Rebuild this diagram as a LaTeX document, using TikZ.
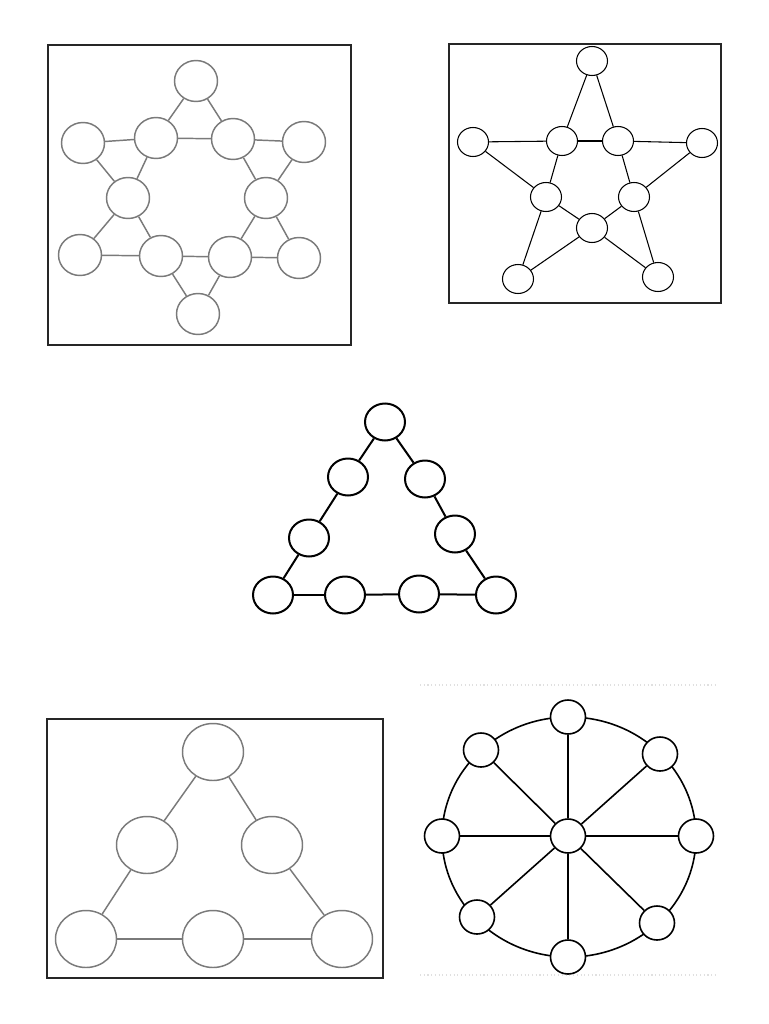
\documentclass[tikz,border=0pt]{standalone}
\usetikzlibrary{shapes.geometric}
\begin{document}
\begin{tikzpicture}[x=0.75pt,y=-0.75pt,
  graycol/.style={draw=black!52, line width=1.1pt},
  hexc/.style={graycol, ellipse, fill=white, inner sep=0pt, minimum width=32.25pt, minimum height=30.75pt},
  pentc/.style={draw=black, line width=0.8pt, ellipse, fill=white, inner sep=0pt, minimum width=23.25pt, minimum height=21.75pt},
  trc/.style={draw=black, line width=1.5pt, ellipse, fill=white, inner sep=0pt, minimum width=30pt, minimum height=27.75pt},
  bigc/.style={graycol, ellipse, fill=white, inner sep=0pt, minimum width=45.75pt, minimum height=42.75pt},
  whc/.style={draw=black, line width=1.2pt, ellipse, fill=white, inner sep=0pt, minimum width=26.25pt, minimum height=25.5pt},
  frame/.style={draw=black!85, line width=0.9pt}]
\useasboundingbox (0,0) rectangle (768,1024);
\fill[white] (0,0) rectangle (768,1024);

% ---------- Panel 1: hexagram ----------
\draw[frame] (48,45) rectangle (351,345);
\node[hexc] (h1) at (196,81) {};
\node[hexc] (h2) at (83,143) {};
\node[hexc] (h3) at (156,138) {};
\node[hexc] (h4) at (233,139) {};
\node[hexc] (h5) at (304,142) {};
\node[hexc] (h6) at (128,198) {};
\node[hexc] (h7) at (266,198) {};
\node[hexc] (h8) at (80,255) {};
\node[hexc] (h9) at (161,256) {};
\node[hexc] (h10) at (230,257) {};
\node[hexc] (h11) at (299,258) {};
\node[hexc] (h12) at (198,314) {};
\foreach \a/\b in {h1/h3,h1/h4,h2/h3,h3/h4,h4/h5,h2/h6,h3/h6,h4/h7,h5/h7,h6/h8,h6/h9,h8/h9,h9/h10,h10/h11,h7/h10,h7/h11,h9/h12,h10/h12}
  \draw[graycol] (\a) -- (\b);

% ---------- Panel 2: pentagram ----------
\draw[frame] (449,44) rectangle (721,303);
\node[pentc] (p1) at (592,61) {};
\node[pentc] (p2) at (473,142) {};
\node[pentc] (p3) at (562,141) {};
\node[pentc] (p4) at (618,141) {};
\node[pentc] (p5) at (702,143) {};
\node[pentc] (p6) at (546,197) {};
\node[pentc] (p7) at (634,197) {};
\node[pentc] (p8) at (592,228) {};
\node[pentc] (p9) at (518,279) {};
\node[pentc] (p10) at (658,277) {};
\foreach \a/\b in {p1/p3,p3/p6,p6/p9,p1/p4,p4/p7,p7/p10,p2/p3,p3/p4,p4/p5,p2/p6,p6/p8,p8/p10,p5/p7,p7/p8,p8/p9}
  \draw[black, line width=0.8pt] (\a) -- (\b);

% ---------- Panel 3: triangle of nine ----------
\node[trc] (t1) at (385,422) {};
\node[trc] (t2) at (348,477) {};
\node[trc] (t3) at (309,538) {};
\node[trc] (t4) at (273,595) {};
\node[trc] (t5) at (345,595) {};
\node[trc] (t6) at (419,594) {};
\node[trc] (t7) at (496,595) {};
\node[trc] (t8) at (455,534) {};
\node[trc] (t9) at (425,479) {};
\foreach \a/\b in {t1/t2,t2/t3,t3/t4,t4/t5,t5/t6,t6/t7,t7/t8,t8/t9,t9/t1}
  \draw[black, line width=1.5pt] (\a) -- (\b);

% ---------- Panel 4: triangle of six ----------
\draw[frame] (47,719) rectangle (383,978);
\node[bigc] (g1) at (213,752) {};
\node[bigc] (g2) at (147,845) {};
\node[bigc] (g3) at (272,845) {};
\node[bigc] (g4) at (86,939) {};
\node[bigc] (g5) at (213,939) {};
\node[bigc] (g6) at (342,939) {};
\foreach \a/\b in {g1/g2,g2/g4,g3/g6,g3/g1}
  \draw[graycol] (\a) -- (\b);
\draw[draw=black!52, line width=2pt] (g4) -- (g5) (g5) -- (g6);

% ---------- Panel 5: wheel ----------
\draw[black!12, line width=0.8pt, dotted] (420,685) -- (715,685);
\draw[black!12, line width=0.8pt, dotted] (420,975) -- (715,975);
\coordinate (wc) at (569,837);
\draw[black, line width=1.2pt] (wc) ellipse [x radius=127, y radius=120];
\node[whc] (w0) at (568,836) {};
\node[whc] (w1) at (568,717) {};
\node[whc] (w2) at (660,754) {};
\node[whc] (w3) at (696,836) {};
\node[whc] (w4) at (657,923) {};
\node[whc] (w5) at (568,957) {};
\node[whc] (w6) at (477,917) {};
\node[whc] (w7) at (442,836) {};
\node[whc] (w8) at (481,750) {};
\foreach \b in {w1,w2,w3,w4,w5,w6,w7,w8}
  \draw[black, line width=1.2pt] (w0) -- (\b);
\end{tikzpicture}
\end{document}
